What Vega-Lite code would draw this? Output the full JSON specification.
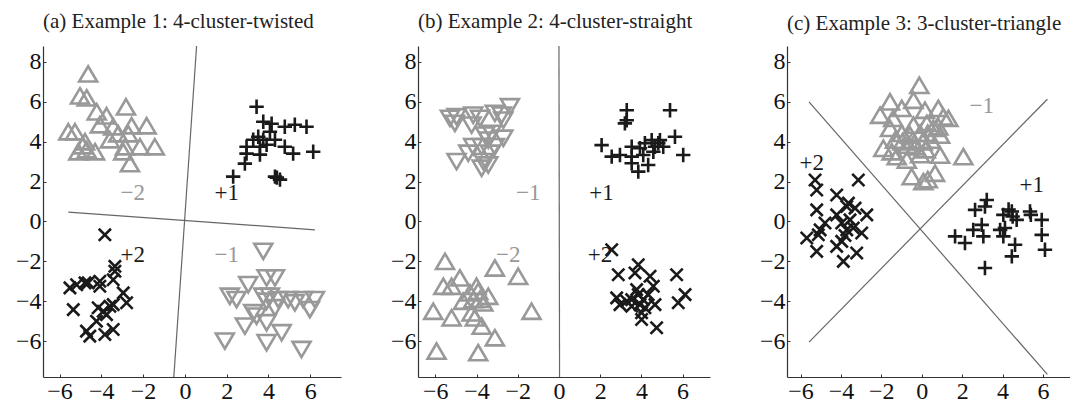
{
  "$schema": "https://vega.github.io/schema/vega-lite/v6.json",
  "background": "white",
  "padding": {"left": 15, "top": 10, "right": 0, "bottom": 0},
  "spacing": 77,
  "bounds": "flush",
  "config": {
    "view": {"stroke": null},
    "font": "Liberation Serif",
    "axis": {"grid": false, "domainColor": "#333", "tickColor": "#333", "labelColor": "#111", "labelFont": "Liberation Serif", "labelFontSize": 24, "tickSize": -3, "labelPadding": 5, "title": null, "domainWidth": 1.2, "tickWidth": 1}
  },
  "hconcat": [
    {
      "width": 298, "height": 331,
      "title": {"text": "(a) Example 1: 4-cluster-twisted", "anchor": "start", "frame": "group", "font": "Liberation Serif", "fontSize": 21, "fontWeight": "normal", "color": "#222", "offset": 12},
      "encoding": {
        "x": {"field": "x", "type": "quantitative", "scale": {"domain": [-6.79, 7.47], "nice": false, "zero": false}, "axis": {"values": [-6, -4, -2, 0, 2, 4, 6]}},
        "y": {"field": "y", "type": "quantitative", "scale": {"domain": [-7.8, 8.8], "nice": false, "zero": false}, "axis": {"values": [-6, -4, -2, 0, 2, 4, 6, 8]}}
      },
      "layer": [
        {
          "data": {"values": [
            {"seg": "L1", "x": 0.56, "y": 8.8}, {"seg": "L1", "x": -0.53, "y": -7.8},
            {"seg": "L2", "x": -5.58, "y": 0.47}, {"seg": "L2", "x": 6.22, "y": -0.42}
          ]},
          "mark": {"type": "line", "color": "#666", "strokeWidth": 1.2},
          "encoding": {"detail": {"field": "seg"}}
        },
        {
          "data": {"values": [
            {"cls": "tu", "x": -4.63, "y": 7.4}, {"cls": "tu", "x": -5.02, "y": 6.3}, {"cls": "tu", "x": -4.7, "y": 6.2}, {"cls": "tu", "x": -4.22, "y": 5.5}, {"cls": "tu", "x": -3.75, "y": 5.3}, {"cls": "tu", "x": -2.82, "y": 5.75}, {"cls": "tu", "x": -5.58, "y": 4.5}, {"cls": "tu", "x": -5.26, "y": 4.5}, {"cls": "tu", "x": -4.07, "y": 4.85}, {"cls": "tu", "x": -3.43, "y": 4.75}, {"cls": "tu", "x": -3.19, "y": 4.4}, {"cls": "tu", "x": -2.55, "y": 4.8}, {"cls": "tu", "x": -1.83, "y": 4.8}, {"cls": "tu", "x": -2.71, "y": 4.4}, {"cls": "tu", "x": -3.59, "y": 4.1}, {"cls": "tu", "x": -4.78, "y": 4.0}, {"cls": "tu", "x": -5.1, "y": 3.5}, {"cls": "tu", "x": -4.7, "y": 3.6}, {"cls": "tu", "x": -4.3, "y": 3.5}, {"cls": "tu", "x": -2.87, "y": 3.75}, {"cls": "tu", "x": -2.95, "y": 3.5}, {"cls": "tu", "x": -2.15, "y": 3.75}, {"cls": "tu", "x": -1.44, "y": 3.75}, {"cls": "tu", "x": -2.63, "y": 2.9}, {"cls": "tu", "x": -4.9, "y": 3.8},
            {"cls": "plus", "x": 3.43, "y": 5.75}, {"cls": "plus", "x": 3.75, "y": 5.0}, {"cls": "plus", "x": 4.15, "y": 4.9}, {"cls": "plus", "x": 4.78, "y": 4.75}, {"cls": "plus", "x": 5.26, "y": 4.85}, {"cls": "plus", "x": 5.82, "y": 4.75}, {"cls": "plus", "x": 4.07, "y": 4.5}, {"cls": "plus", "x": 3.51, "y": 4.25}, {"cls": "plus", "x": 3.27, "y": 4.1}, {"cls": "plus", "x": 3.75, "y": 4.1}, {"cls": "plus", "x": 4.31, "y": 4.1}, {"cls": "plus", "x": 3.91, "y": 3.85}, {"cls": "plus", "x": 2.95, "y": 3.75}, {"cls": "plus", "x": 4.78, "y": 3.75}, {"cls": "plus", "x": 2.95, "y": 3.4}, {"cls": "plus", "x": 3.59, "y": 3.35}, {"cls": "plus", "x": 5.18, "y": 3.4}, {"cls": "plus", "x": 6.14, "y": 3.5}, {"cls": "plus", "x": 2.87, "y": 2.9}, {"cls": "plus", "x": 2.31, "y": 2.25}, {"cls": "plus", "x": 4.31, "y": 2.25}, {"cls": "plus", "x": 4.55, "y": 2.1}, {"cls": "plus", "x": 4.4, "y": 2.2}, {"cls": "plus", "x": 3.59, "y": 3.75},
            {"cls": "x", "x": -3.83, "y": -0.67}, {"cls": "x", "x": -3.35, "y": -2.25}, {"cls": "x", "x": -3.35, "y": -2.5}, {"cls": "x", "x": -5.5, "y": -3.33}, {"cls": "x", "x": -5.18, "y": -3.17}, {"cls": "x", "x": -4.78, "y": -3.08}, {"cls": "x", "x": -4.63, "y": -3.08}, {"cls": "x", "x": -4.07, "y": -3.0}, {"cls": "x", "x": -4.07, "y": -3.25}, {"cls": "x", "x": -3.43, "y": -2.92}, {"cls": "x", "x": -2.95, "y": -3.58}, {"cls": "x", "x": -2.79, "y": -4.08}, {"cls": "x", "x": -5.34, "y": -4.42}, {"cls": "x", "x": -4.15, "y": -4.33}, {"cls": "x", "x": -3.91, "y": -4.5}, {"cls": "x", "x": -3.59, "y": -4.25}, {"cls": "x", "x": -3.43, "y": -4.17}, {"cls": "x", "x": -3.75, "y": -4.67}, {"cls": "x", "x": -4.23, "y": -5.0}, {"cls": "x", "x": -3.43, "y": -5.42}, {"cls": "x", "x": -4.71, "y": -5.5}, {"cls": "x", "x": -4.55, "y": -5.75}, {"cls": "x", "x": -3.83, "y": -5.67},
            {"cls": "td", "x": 3.75, "y": -1.5}, {"cls": "td", "x": 3.91, "y": -2.83}, {"cls": "td", "x": 4.31, "y": -2.83}, {"cls": "td", "x": 3.03, "y": -3.17}, {"cls": "td", "x": 2.15, "y": -3.75}, {"cls": "td", "x": 2.47, "y": -3.92}, {"cls": "td", "x": 3.75, "y": -3.75}, {"cls": "td", "x": 4.07, "y": -3.75}, {"cls": "td", "x": 3.91, "y": -4.0}, {"cls": "td", "x": 4.47, "y": -3.92}, {"cls": "td", "x": 4.94, "y": -3.92}, {"cls": "td", "x": 5.26, "y": -4.08}, {"cls": "td", "x": 5.66, "y": -3.92}, {"cls": "td", "x": 6.22, "y": -3.92}, {"cls": "td", "x": 5.98, "y": -4.42}, {"cls": "td", "x": 4.31, "y": -4.33}, {"cls": "td", "x": 3.27, "y": -4.58}, {"cls": "td", "x": 3.43, "y": -4.75}, {"cls": "td", "x": 3.91, "y": -5.08}, {"cls": "td", "x": 2.87, "y": -5.25}, {"cls": "td", "x": 4.63, "y": -5.58}, {"cls": "td", "x": 1.91, "y": -6.0}, {"cls": "td", "x": 3.91, "y": -6.08}, {"cls": "td", "x": 5.58, "y": -6.42}
          ]},
          "mark": {"type": "point", "filled": false, "strokeWidth": 2.6, "size": 324, "opacity": 1},
          "encoding": {
            "shape": {"field": "cls", "scale": {"domain": ["tu", "td", "plus", "x"], "range": ["M0,-0.85L1,0.85L-1,0.85Z", "M0,0.85L1,-0.85L-1,-0.85Z", "M-0.8,0H0.8M0,-0.8V0.8", "M-0.68,-0.68L0.68,0.68M-0.68,0.68L0.68,-0.68"]}, "legend": null},
            "color": {"field": "cls", "scale": {"domain": ["tu", "td", "plus", "x"], "range": ["#999999", "#999999", "#1a1a1a", "#1a1a1a"]}, "legend": null}
          }
        },
        {
          "data": {"values": [
            {"label": "−2", "cls": "tu", "x": -2.5, "y": 1.45}, {"label": "+1", "cls": "plus", "x": 2.0, "y": 1.45},
            {"label": "+2", "cls": "plus", "x": -2.5, "y": -1.67}, {"label": "−1", "cls": "tu", "x": 2.0, "y": -1.67}
          ]},
          "mark": {"type": "text", "font": "Liberation Serif", "fontSize": 23, "align": "center", "baseline": "middle"},
          "encoding": {
            "text": {"field": "label"},
            "color": {"field": "cls", "scale": {"domain": ["tu", "td", "plus", "x"], "range": ["#999999", "#999999", "#1a1a1a", "#1a1a1a"]}, "legend": null}
          }
        }
      ]
    },
    {
      "width": 292, "height": 331,
      "title": {"text": "(b) Example 2: 4-cluster-straight", "anchor": "start", "frame": "group", "font": "Liberation Serif", "fontSize": 21, "fontWeight": "normal", "color": "#222", "offset": 12},
      "encoding": {
        "x": {"field": "x", "type": "quantitative", "scale": {"domain": [-6.84, 7.33], "nice": false, "zero": false}, "axis": {"values": [-6, -4, -2, 0, 2, 4, 6]}},
        "y": {"field": "y", "type": "quantitative", "scale": {"domain": [-7.8, 8.8], "nice": false, "zero": false}, "axis": {"values": [-6, -4, -2, 0, 2, 4, 6, 8]}}
      },
      "layer": [
        {
          "data": {"values": [
            {"seg": "L1", "x": 0.0, "y": 8.8}, {"seg": "L1", "x": 0.03, "y": -7.8}
          ]},
          "mark": {"type": "line", "color": "#666", "strokeWidth": 1.2},
          "encoding": {"detail": {"field": "seg"}}
        },
        {
          "data": {"values": [
            {"cls": "td", "x": -5.29, "y": 5.17}, {"cls": "td", "x": -4.97, "y": 5.25}, {"cls": "td", "x": -4.16, "y": 5.33}, {"cls": "td", "x": -3.83, "y": 5.17}, {"cls": "td", "x": -3.11, "y": 5.42}, {"cls": "td", "x": -2.78, "y": 5.33}, {"cls": "td", "x": -2.38, "y": 5.75}, {"cls": "td", "x": -5.05, "y": 4.92}, {"cls": "td", "x": -4.24, "y": 4.83}, {"cls": "td", "x": -2.7, "y": 5.08}, {"cls": "td", "x": -3.59, "y": 4.33}, {"cls": "td", "x": -3.27, "y": 4.42}, {"cls": "td", "x": -3.43, "y": 4.08}, {"cls": "td", "x": -2.7, "y": 4.17}, {"cls": "td", "x": -4.16, "y": 3.75}, {"cls": "td", "x": -3.75, "y": 3.75}, {"cls": "td", "x": -3.11, "y": 3.75}, {"cls": "td", "x": -3.35, "y": 3.42}, {"cls": "td", "x": -4.97, "y": 3.0}, {"cls": "td", "x": -3.67, "y": 3.0}, {"cls": "td", "x": -3.43, "y": 2.83}, {"cls": "td", "x": -3.75, "y": 2.67}, {"cls": "td", "x": -4.4, "y": 3.42},
            {"cls": "plus", "x": 3.29, "y": 5.58}, {"cls": "plus", "x": 3.29, "y": 5.08}, {"cls": "plus", "x": 3.2, "y": 4.92}, {"cls": "plus", "x": 5.39, "y": 5.58}, {"cls": "plus", "x": 2.07, "y": 3.83}, {"cls": "plus", "x": 2.56, "y": 3.25}, {"cls": "plus", "x": 2.96, "y": 3.33}, {"cls": "plus", "x": 3.53, "y": 3.75}, {"cls": "plus", "x": 3.53, "y": 3.25}, {"cls": "plus", "x": 3.93, "y": 3.67}, {"cls": "plus", "x": 4.17, "y": 3.92}, {"cls": "plus", "x": 4.5, "y": 4.08}, {"cls": "plus", "x": 4.66, "y": 3.75}, {"cls": "plus", "x": 4.82, "y": 3.92}, {"cls": "plus", "x": 5.06, "y": 3.75}, {"cls": "plus", "x": 4.9, "y": 4.08}, {"cls": "plus", "x": 5.63, "y": 4.25}, {"cls": "plus", "x": 6.03, "y": 3.33}, {"cls": "plus", "x": 3.53, "y": 2.92}, {"cls": "plus", "x": 3.85, "y": 2.5}, {"cls": "plus", "x": 4.33, "y": 2.83}, {"cls": "plus", "x": 4.09, "y": 3.33}, {"cls": "plus", "x": 4.58, "y": 3.5},
            {"cls": "tu", "x": -5.53, "y": -2.0}, {"cls": "tu", "x": -3.11, "y": -2.33}, {"cls": "tu", "x": -1.98, "y": -2.75}, {"cls": "tu", "x": -4.81, "y": -2.83}, {"cls": "tu", "x": -5.61, "y": -3.25}, {"cls": "tu", "x": -5.21, "y": -3.25}, {"cls": "tu", "x": -4.0, "y": -3.25}, {"cls": "tu", "x": -4.32, "y": -3.58}, {"cls": "tu", "x": -3.92, "y": -3.5}, {"cls": "tu", "x": -3.43, "y": -3.75}, {"cls": "tu", "x": -4.65, "y": -4.0}, {"cls": "tu", "x": -4.16, "y": -3.92}, {"cls": "tu", "x": -3.67, "y": -4.08}, {"cls": "tu", "x": -6.1, "y": -4.5}, {"cls": "tu", "x": -1.33, "y": -4.5}, {"cls": "tu", "x": -4.24, "y": -4.58}, {"cls": "tu", "x": -5.21, "y": -4.83}, {"cls": "tu", "x": -4.08, "y": -4.83}, {"cls": "tu", "x": -3.75, "y": -5.25}, {"cls": "tu", "x": -3.11, "y": -5.83}, {"cls": "tu", "x": -5.94, "y": -6.5}, {"cls": "tu", "x": -3.92, "y": -6.58}, {"cls": "tu", "x": -3.83, "y": -3.9},
            {"cls": "x", "x": 2.56, "y": -1.42}, {"cls": "x", "x": 2.88, "y": -2.67}, {"cls": "x", "x": 3.85, "y": -2.17}, {"cls": "x", "x": 3.69, "y": -2.58}, {"cls": "x", "x": 4.42, "y": -2.75}, {"cls": "x", "x": 5.71, "y": -2.67}, {"cls": "x", "x": 4.58, "y": -3.25}, {"cls": "x", "x": 3.77, "y": -3.42}, {"cls": "x", "x": 2.8, "y": -3.83}, {"cls": "x", "x": 3.29, "y": -4.0}, {"cls": "x", "x": 3.53, "y": -3.92}, {"cls": "x", "x": 3.85, "y": -3.67}, {"cls": "x", "x": 4.09, "y": -3.92}, {"cls": "x", "x": 4.33, "y": -3.67}, {"cls": "x", "x": 2.96, "y": -4.17}, {"cls": "x", "x": 3.93, "y": -4.17}, {"cls": "x", "x": 4.66, "y": -4.17}, {"cls": "x", "x": 3.53, "y": -4.25}, {"cls": "x", "x": 4.17, "y": -4.33}, {"cls": "x", "x": 4.01, "y": -4.58}, {"cls": "x", "x": 4.01, "y": -4.92}, {"cls": "x", "x": 4.74, "y": -5.33}, {"cls": "x", "x": 5.79, "y": -4.08}, {"cls": "x", "x": 6.12, "y": -3.67}
          ]},
          "mark": {"type": "point", "filled": false, "strokeWidth": 2.6, "size": 324, "opacity": 1},
          "encoding": {
            "shape": {"field": "cls", "scale": {"domain": ["tu", "td", "plus", "x"], "range": ["M0,-0.85L1,0.85L-1,0.85Z", "M0,0.85L1,-0.85L-1,-0.85Z", "M-0.8,0H0.8M0,-0.8V0.8", "M-0.68,-0.68L0.68,0.68M-0.68,0.68L0.68,-0.68"]}, "legend": null},
            "color": {"field": "cls", "scale": {"domain": ["tu", "td", "plus", "x"], "range": ["#999999", "#999999", "#1a1a1a", "#1a1a1a"]}, "legend": null}
          }
        },
        {
          "data": {"values": [
            {"label": "−1", "cls": "tu", "x": -1.49, "y": 1.42}, {"label": "+1", "cls": "plus", "x": 2.07, "y": 1.42},
            {"label": "−2", "cls": "tu", "x": -2.46, "y": -1.67}, {"label": "+2", "cls": "plus", "x": 1.99, "y": -1.67}
          ]},
          "mark": {"type": "text", "font": "Liberation Serif", "fontSize": 23, "align": "center", "baseline": "middle"},
          "encoding": {
            "text": {"field": "label"},
            "color": {"field": "cls", "scale": {"domain": ["tu", "td", "plus", "x"], "range": ["#999999", "#999999", "#1a1a1a", "#1a1a1a"]}, "legend": null}
          }
        }
      ]
    },
    {
      "width": 283, "height": 331,
      "title": {"text": "(c) Example 3: 3-cluster-triangle", "anchor": "start", "frame": "group", "font": "Liberation Serif", "fontSize": 21, "fontWeight": "normal", "color": "#222", "offset": 12},
      "encoding": {
        "x": {"field": "x", "type": "quantitative", "scale": {"domain": [-6.67, 7.34], "nice": false, "zero": false}, "axis": {"values": [-6, -4, -2, 0, 2, 4, 6]}},
        "y": {"field": "y", "type": "quantitative", "scale": {"domain": [-7.8, 8.8], "nice": false, "zero": false}, "axis": {"values": [-6, -4, -2, 0, 2, 4, 6, 8]}}
      },
      "layer": [
        {
          "data": {"values": [
            {"seg": "L1", "x": -5.58, "y": 6.0}, {"seg": "L1", "x": 6.22, "y": -7.67},
            {"seg": "L2", "x": -5.58, "y": -6.05}, {"seg": "L2", "x": 6.22, "y": 6.13}
          ]},
          "mark": {"type": "line", "color": "#666", "strokeWidth": 1.2},
          "encoding": {"detail": {"field": "seg"}}
        },
        {
          "data": {"values": [
            {"cls": "tu", "x": -0.12, "y": 6.83}, {"cls": "tu", "x": -0.41, "y": 6.08}, {"cls": "tu", "x": -1.57, "y": 6.0}, {"cls": "tu", "x": -0.99, "y": 5.67}, {"cls": "tu", "x": 0.16, "y": 5.58}, {"cls": "tu", "x": 0.82, "y": 5.67}, {"cls": "tu", "x": -2.06, "y": 5.33}, {"cls": "tu", "x": -1.41, "y": 5.17}, {"cls": "tu", "x": 1.07, "y": 5.25}, {"cls": "tu", "x": 1.32, "y": 5.17}, {"cls": "tu", "x": -1.57, "y": 4.67}, {"cls": "tu", "x": -0.41, "y": 4.83}, {"cls": "tu", "x": 0.25, "y": 4.92}, {"cls": "tu", "x": 0.57, "y": 4.67}, {"cls": "tu", "x": 0.82, "y": 4.75}, {"cls": "tu", "x": -0.99, "y": 4.42}, {"cls": "tu", "x": -0.58, "y": 4.33}, {"cls": "tu", "x": -0.08, "y": 4.42}, {"cls": "tu", "x": 0.3, "y": 4.42}, {"cls": "tu", "x": 0.91, "y": 4.33}, {"cls": "tu", "x": -1.32, "y": 4.08}, {"cls": "tu", "x": -0.95, "y": 4.0}, {"cls": "tu", "x": -0.45, "y": 4.08}, {"cls": "tu", "x": 0.05, "y": 4.0}, {"cls": "tu", "x": 0.45, "y": 4.08}, {"cls": "tu", "x": -1.9, "y": 3.67}, {"cls": "tu", "x": -1.49, "y": 3.5}, {"cls": "tu", "x": -0.7, "y": 3.83}, {"cls": "tu", "x": -0.3, "y": 3.75}, {"cls": "tu", "x": 0.2, "y": 3.6}, {"cls": "tu", "x": 0.91, "y": 3.33}, {"cls": "tu", "x": 2.06, "y": 3.25}, {"cls": "tu", "x": -1.24, "y": 3.25}, {"cls": "tu", "x": -0.74, "y": 3.08}, {"cls": "tu", "x": -0.08, "y": 3.35}, {"cls": "tu", "x": -0.5, "y": 2.25}, {"cls": "tu", "x": 0.08, "y": 2.0}, {"cls": "tu", "x": 0.3, "y": 2.1}, {"cls": "tu", "x": 0.66, "y": 2.42},
            {"cls": "x", "x": -5.28, "y": 2.08}, {"cls": "x", "x": -5.2, "y": 1.58}, {"cls": "x", "x": -4.21, "y": 1.33}, {"cls": "x", "x": -3.14, "y": 2.08}, {"cls": "x", "x": -3.63, "y": 0.92}, {"cls": "x", "x": -5.2, "y": 0.58}, {"cls": "x", "x": -3.71, "y": 0.75}, {"cls": "x", "x": -3.3, "y": 0.67}, {"cls": "x", "x": -4.21, "y": 0.33}, {"cls": "x", "x": -2.72, "y": 0.33}, {"cls": "x", "x": -4.79, "y": -0.08}, {"cls": "x", "x": -3.96, "y": -0.08}, {"cls": "x", "x": -3.55, "y": 0.08}, {"cls": "x", "x": -5.03, "y": -0.42}, {"cls": "x", "x": -3.39, "y": -0.33}, {"cls": "x", "x": -3.71, "y": -0.42}, {"cls": "x", "x": -5.69, "y": -0.83}, {"cls": "x", "x": -5.12, "y": -0.67}, {"cls": "x", "x": -2.97, "y": -0.58}, {"cls": "x", "x": -3.96, "y": -1.0}, {"cls": "x", "x": -4.21, "y": -1.25}, {"cls": "x", "x": -5.2, "y": -1.5}, {"cls": "x", "x": -3.22, "y": -1.58}, {"cls": "x", "x": -3.88, "y": -2.0}, {"cls": "x", "x": -3.8, "y": -0.7},
            {"cls": "plus", "x": 3.22, "y": 1.08}, {"cls": "plus", "x": 2.64, "y": 0.58}, {"cls": "plus", "x": 3.13, "y": 0.75}, {"cls": "plus", "x": 4.04, "y": 0.33}, {"cls": "plus", "x": 4.46, "y": 0.5}, {"cls": "plus", "x": 4.5, "y": 0.25}, {"cls": "plus", "x": 4.7, "y": 0.08}, {"cls": "plus", "x": 5.36, "y": 0.5}, {"cls": "plus", "x": 5.4, "y": 0.33}, {"cls": "plus", "x": 5.94, "y": 0.08}, {"cls": "plus", "x": 2.97, "y": -0.17}, {"cls": "plus", "x": 2.55, "y": -0.42}, {"cls": "plus", "x": 3.05, "y": -0.75}, {"cls": "plus", "x": 1.65, "y": -0.75}, {"cls": "plus", "x": 2.14, "y": -1.08}, {"cls": "plus", "x": 3.88, "y": -0.42}, {"cls": "plus", "x": 4.12, "y": -0.33}, {"cls": "plus", "x": 4.04, "y": -0.75}, {"cls": "plus", "x": 5.94, "y": -0.67}, {"cls": "plus", "x": 4.62, "y": -1.17}, {"cls": "plus", "x": 6.1, "y": -1.42}, {"cls": "plus", "x": 4.46, "y": -1.75}, {"cls": "plus", "x": 3.13, "y": -2.33}, {"cls": "plus", "x": 4.3, "y": 0.6}
          ]},
          "mark": {"type": "point", "filled": false, "strokeWidth": 2.6, "size": 324, "opacity": 1},
          "encoding": {
            "shape": {"field": "cls", "scale": {"domain": ["tu", "td", "plus", "x"], "range": ["M0,-0.85L1,0.85L-1,0.85Z", "M0,0.85L1,-0.85L-1,-0.85Z", "M-0.8,0H0.8M0,-0.8V0.8", "M-0.68,-0.68L0.68,0.68M-0.68,0.68L0.68,-0.68"]}, "legend": null},
            "color": {"field": "cls", "scale": {"domain": ["tu", "td", "plus", "x"], "range": ["#999999", "#999999", "#1a1a1a", "#1a1a1a"]}, "legend": null}
          }
        },
        {
          "data": {"values": [
            {"label": "−1", "cls": "tu", "x": 2.97, "y": 5.79}, {"label": "+2", "cls": "plus", "x": -5.45, "y": 2.92}, {"label": "+1", "cls": "plus", "x": 5.45, "y": 1.83}
          ]},
          "mark": {"type": "text", "font": "Liberation Serif", "fontSize": 23, "align": "center", "baseline": "middle"},
          "encoding": {
            "text": {"field": "label"},
            "color": {"field": "cls", "scale": {"domain": ["tu", "td", "plus", "x"], "range": ["#999999", "#999999", "#1a1a1a", "#1a1a1a"]}, "legend": null}
          }
        }
      ]
    }
  ]
}
